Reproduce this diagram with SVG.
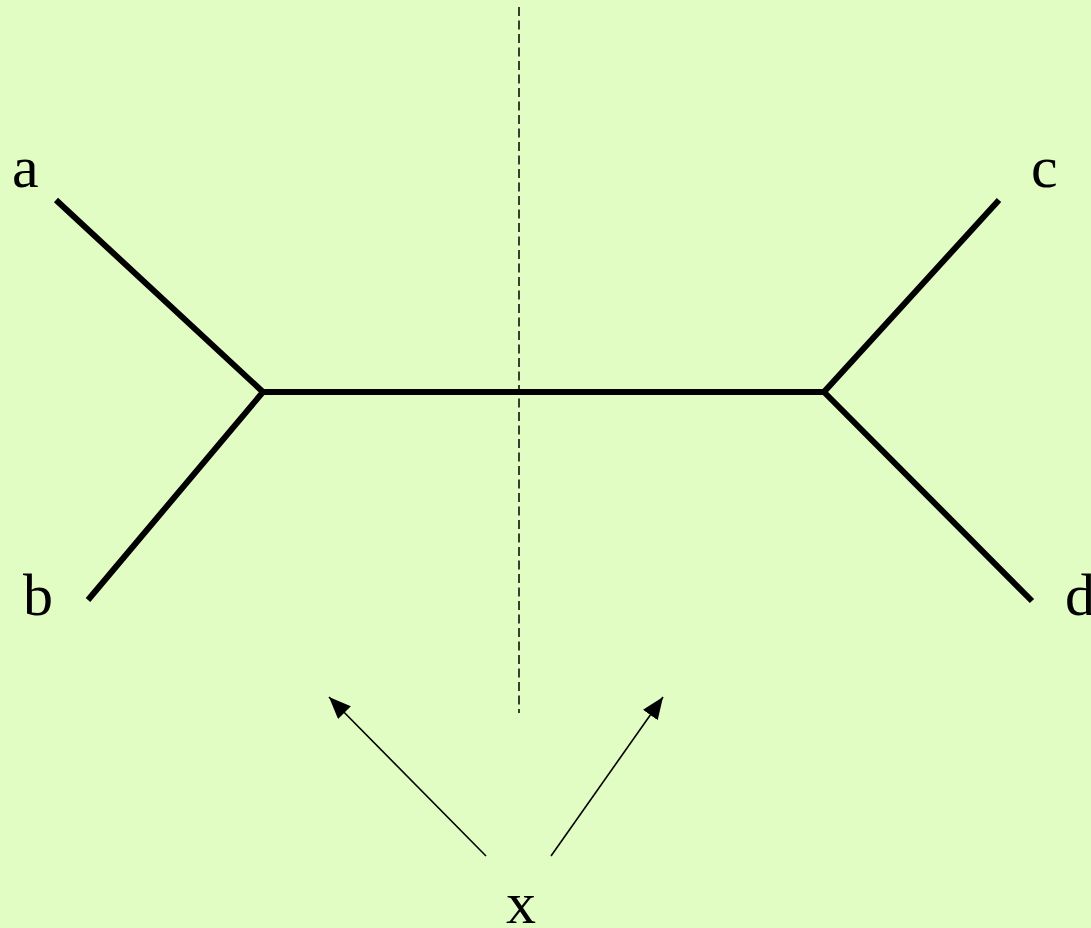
<svg xmlns="http://www.w3.org/2000/svg" width="1091" height="928" viewBox="0 0 1091 928">
<style>
.lbl{font-family:"Liberation Serif","Times New Roman",serif;font-size:60px;fill:#000}
.br{stroke:#000;stroke-width:6;fill:none;stroke-linejoin:miter}
.ar{stroke:#000;stroke-width:1.6;fill:none}
</style>
<defs>
<marker id="ah" viewBox="0 0 22 18" refX="22" refY="9" markerWidth="22" markerHeight="18" markerUnits="userSpaceOnUse" orient="auto">
<path d="M0,0 L22,9 L0,18 Z" fill="#000"/>
</marker>
</defs>
<rect width="1091" height="928" fill="#e2fdc4"/>
<g id="connectors">
<line x1="519" y1="7" x2="519" y2="713" stroke="#000" stroke-width="1.5" stroke-dasharray="9,4.5"/>
<path class="br" d="M56,200 L263,392 L88,600"/>
<line class="br" x1="263" y1="392" x2="824" y2="392"/>
<path class="br" d="M999,200 L824,392 L1032,601"/>
<line class="ar" x1="486" y1="856" x2="329" y2="697" marker-end="url(#ah)"/>
<line class="ar" x1="551" y1="856" x2="663" y2="697" marker-end="url(#ah)"/>
</g>
<g id="node-a"><text class="lbl" x="12" y="187">a</text></g>
<g id="node-b"><text class="lbl" x="23" y="615">b</text></g>
<g id="node-c"><text class="lbl" x="1031" y="187">c</text></g>
<g id="node-d"><text class="lbl" x="1065" y="615">d</text></g>
<g id="node-x"><text class="lbl" x="506" y="923">x</text></g>
</svg>
